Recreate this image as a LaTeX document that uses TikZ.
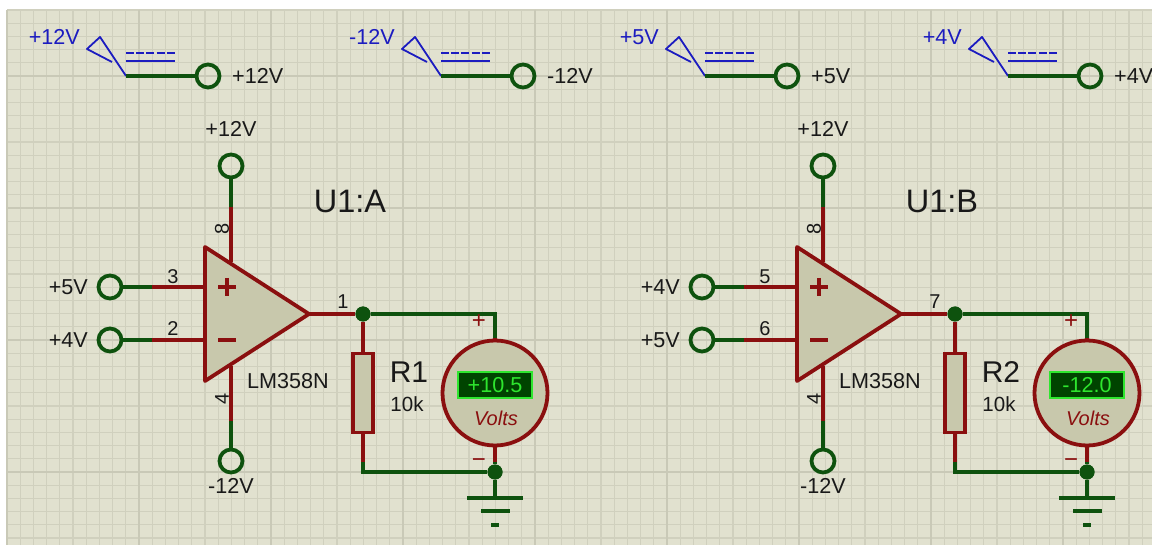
\documentclass[tikz,border=0pt]{standalone}
\usepackage{fontspec}
\setmainfont{Liberation Sans}
\definecolor{sheet}{HTML}{E1E1CF}
\definecolor{gridc}{HTML}{D0D0BE}
\definecolor{gridm}{HTML}{C9C9B7}
\definecolor{body}{HTML}{C8C8AC}
\definecolor{wirer}{HTML}{8A0F0F}
\definecolor{wireg}{HTML}{0E520E}
\definecolor{gen}{HTML}{1C1CC0}
\definecolor{lcd}{HTML}{004400}
\definecolor{lcdb}{HTML}{2EE62E}
\tikzset{
  txt/.style={inner sep=0pt,text=black!90,font=\fontsize{21.6}{24}\selectfont},
  term/.style={circle,draw=wireg,line width=3.8pt,fill=none,minimum size=23pt,inner sep=0pt},
  red wire/.style={draw=wirer,line width=3.4pt},
  green wire/.style={draw=wireg,line width=3.4pt},
  dot/.style={circle,fill=wireg,minimum size=15pt,inner sep=0pt}
}
\begin{document}
\begin{tikzpicture}[x=1pt,y=-1pt]
\useasboundingbox (0,0) rectangle (1152,545);
\fill[sheet] (7,10) rectangle (1152,545);
% grid
\foreach \i in {0,...,86} \draw[gridc,line width=1.1pt] ({7+13.2*\i},10) -- ({7+13.2*\i},545);
\foreach \i in {0,...,40} \draw[gridc,line width=1.1pt] (7,{10+13.2*\i}) -- (1152,{10+13.2*\i});
\foreach \i in {0,...,8} \draw[gridm,line width=1.1pt] ({7+132*\i},10) -- ({7+132*\i},545);
\foreach \i in {0,...,3} \draw[gridm,line width=1.1pt] (7,{76+132*\i}) -- (1152,{76+132*\i});
% generators
\foreach \dx/\nm/\lb in {0/a/+12V,315/b/-12V,579/c/+5V,882/d/+4V}{
\begin{scope}[xshift=\dx pt]
\node[term] (t\nm) at (208,76) {};
\coordinate[left of=t\nm,node distance=82pt] (g\nm);
\node[txt,text=gen,anchor=east] (bl\nm) at (80,37) {\lb};
\node[txt,right of=t\nm,node distance=24pt,anchor=west] (tl\nm) {\lb};
\draw[gen,line width=1.8pt,line join=round] (g\nm) -- (100,37) -- (87,49) -- (112,62);
\draw[gen,line width=1.8pt] (126,61) -- (175,61);
\draw[gen,line width=1.8pt,dash pattern=on 8pt off 2.2pt] (126,53) -- (175,53);
\draw[green wire,line width=4pt] (g\nm) -- (t\nm);
\end{scope}
}
% two op amp stages
\foreach \dx/\nm/\un/\rn/\pa/\pb/\pc/\la/\lb/\rd in {0/A/U1:A/R1/3/2/1/+5V/+4V/+10.5,592/B/U1:B/R2/5/6/7/+4V/+5V/-12.0}{
\begin{scope}[xshift=\dx pt]
\coordinate (tl\nm) at (205,247);
\coordinate (bl\nm) at (205,381);
\coordinate (ap\nm) at (309,314);
% pins and terminals
\node[term] (ip\nm) at (110,287) {};
\node[term,below of=ip\nm,node distance=53pt] (im\nm) {};
\node[term] (vp\nm) at (231,166) {};
\node[term] (vm\nm) at (231,461) {};
\coordinate (ipr\nm) at (152,287);
\coordinate (imr\nm) at (152,340);
\coordinate (vpr\nm) at (231,207);
\coordinate (vmr\nm) at (231,421);
\draw[green wire] (ip\nm) -- (ipr\nm);
\draw[green wire] (im\nm) -- (imr\nm);
\draw[green wire] (vp\nm) -- (vpr\nm);
\draw[green wire] (vm\nm) -- (vmr\nm);
\draw[red wire] (ipr\nm) -- (205,287);
\draw[red wire] (imr\nm) -- (205,340);
\draw[red wire] (vpr\nm) -- (231,262);
\draw[red wire] (vmr\nm) -- (231,366);
\draw[fill=body,draw=wirer,line width=3.8pt,line join=round] (tl\nm) -- (bl\nm) -- (ap\nm) -- cycle;
\draw[wirer,line width=3.8pt] (218,287) -- (236,287) (227,278) -- (227,296) (218,340) -- (236,340);
% labels of op amp
\node[txt,left of=ip\nm,node distance=22pt,anchor=east] (ipl\nm) {\la};
\node[txt,left of=im\nm,node distance=22pt,anchor=east] (iml\nm) {\lb};
\node[txt,above of=vp\nm,node distance=37pt] (vpl\nm) {+12V};
\node[txt,below of=vm\nm,node distance=25pt] (vml\nm) {-12V};
\node[txt,font=\fontsize{20}{24}\selectfont] (n1\nm) at (173,277) {\pa};
\node[txt,font=\fontsize{20}{24}\selectfont] (n2\nm) at (173,329) {\pb};
\node[txt,font=\fontsize{20}{24}\selectfont] (n3\nm) at (343,302) {\pc};
\node[txt,font=\fontsize{20}{24}\selectfont,rotate=90] (n4\nm) at (222,229) {8};
\node[txt,font=\fontsize{20}{24}\selectfont,rotate=90] (n5\nm) at (222,399) {4};
\node[txt,font=\fontsize{32.5}{36}\selectfont] (un\nm) at (350,201) {\un};
\node[txt,anchor=west] (pt\nm) at (247,381) {LM358N};
% output, resistor, meter
\node[dot] (jo\nm) at (363,314) {};
\node[rectangle,draw=wirer,fill=body,line width=3.8pt,minimum width=20pt,minimum height=79pt,below of=jo\nm,node distance=79pt] (rs\nm) {};
\node[circle,draw=wirer,fill=body,line width=3.8pt,minimum size=105pt,inner sep=0pt] (vm1\nm) at (495,393) {};
\node[dot] (jg\nm) at (495,472) {};
\coordinate (cr\nm) at (495,314);
\coordinate (mt\nm) at (495,338);
\coordinate (rb\nm) at (363,462);
\coordinate (cb\nm) at (363,472);
\coordinate (mb\nm) at (495,462);
\draw[red wire] (ap\nm) -- (jo\nm);
\draw[red wire] (jo\nm) -- (rs\nm);
\draw[red wire] (rs\nm) -- (rb\nm);
\draw[green wire] (rb\nm) -- (cb\nm) -- (jg\nm);
\draw[green wire] (jo\nm) -- (cr\nm) -- (mt\nm);
\draw[red wire] (mt\nm) -- (vm1\nm);
\draw[red wire] (vm1\nm) -- (mb\nm);
\draw[green wire] (mb\nm) -- (jg\nm);
\node[dot] at (jo\nm) {};
\node[dot] at (jg\nm) {};
\node[txt,text=wirer,font=\fontsize{24}{26}\selectfont] (pl\nm) at (479,322) {+};
\node[txt,text=wirer,font=\fontsize{24}{26}\selectfont] (mi\nm) at (479,463) {\textminus};
\node[txt,font=\fontsize{30}{32}\selectfont] (rl\nm) at (409,372) {\rn};
\node[txt,font=\fontsize{20.5}{24}\selectfont] (rv\nm) at (407,404) {10k};
\node[rectangle,draw=lcdb,fill=lcd,line width=2.2pt,minimum width=74pt,minimum height=26pt,inner sep=0pt,text=lcdb,font=\fontsize{21.6}{24}\selectfont] (ds\nm) at (495,385) {\rd};
\node[txt,text=wirer,font=\fontsize{20}{24}\selectfont\itshape] (vo\nm) at (496,418) {Volts};
% ground
\coordinate (g1\nm) at (495,498);
\draw[green wire] (jg\nm) -- (g1\nm);
\draw[green wire,line width=3.8pt] (467,498) -- (523,498) (481,511) -- (510,511) (491,525) -- (499,525);
\end{scope}
}
\end{tikzpicture}
\end{document}
